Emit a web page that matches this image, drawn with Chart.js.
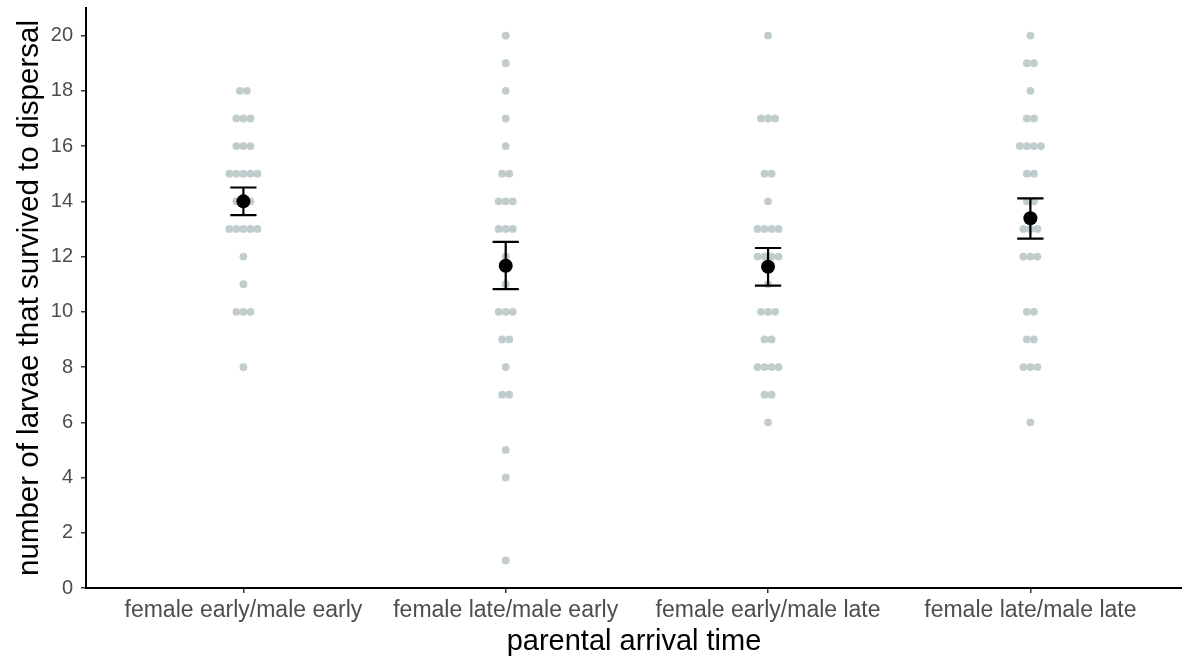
<!DOCTYPE html>
<html>
<head>
<meta charset="utf-8">
<script src="https://cdn.jsdelivr.net/npm/chart.js@4.4.0/dist/chart.umd.min.js"></script>
<style>
  html, body { margin: 0; padding: 0; background: #fff; overflow: hidden; }
  #wrap { width: 1182px; height: 656px; }
</style>
</head>
<body>
<div id="wrap"><canvas id="chart"></canvas></div>
<script>
// groups on the x axis
const categories = [
    'female early/male early',
    'female late/male early',
    'female early/male late',
    'female late/male late'
];

// individual broods: larvae surviving to dispersal
const earlyEarly = [18, 18, 17, 17, 17, 16, 16, 16, 15, 15, 15, 15, 15, 14, 14, 14, 13, 13, 13, 13, 13, 12, 11, 10, 10, 10, 8];
const lateEarly = [20, 19, 18, 17, 16, 15, 15, 14, 14, 14, 13, 13, 13, 12, 11, 10, 10, 10, 9, 9, 8, 7, 7, 5, 4, 1];
const earlyLate = [20, 17, 17, 17, 15, 15, 14, 13, 13, 13, 13, 12, 12, 12, 12, 11, 10, 10, 10, 9, 9, 8, 8, 8, 8, 7, 7, 6];
const lateLate = [20, 19, 19, 18, 17, 17, 16, 16, 16, 16, 15, 15, 14, 14, 13, 13, 13, 12, 12, 12, 10, 10, 9, 9, 8, 8, 8, 6];

const means = [14.0, 11.67, 11.63, 13.39];
const lower = [13.50, 10.82, 10.95, 12.65];
const upper = [14.50, 12.53, 12.31, 14.11];

const yTicks = [0, 2, 4, 6, 8, 10, 12, 14, 16, 18, 20];

const groups = [earlyEarly, lateEarly, earlyLate, lateLate];

// centred dot stacking: tied values are laid side by side
const DOT_STEP = 0.0268;
const rawPoints = [];
groups.forEach((vals, gi) => {
    const counts = {};
    vals.forEach(v => { counts[v] = (counts[v] || 0) + 1; });
    Object.keys(counts).forEach(k => {
        const n = counts[k];
        for (let i = 0; i < n; i++) {
            rawPoints.push({ x: gi + 1 + (i - (n - 1) / 2) * DOT_STEP, y: Number(k) });
        }
    });
});

const meanPoints = means.map((m, i) => ({ x: i + 1, y: m }));

// error bars drawn through the chart scales, under the mean dots
const errorBars = {
    id: 'errorBars',
    afterDatasetDraw(chart, args) {
        if (args.index !== 1) return;
        const { ctx, scales: { x, y } } = chart;
        ctx.save();
        ctx.strokeStyle = '#000';
        ctx.lineWidth = 2.2;
        means.forEach((m, i) => {
            const cx = x.getPixelForValue(i + 1);
            const half = x.getPixelForValue(i + 1.05) - cx;
            const yLo = y.getPixelForValue(lower[i]);
            const yHi = y.getPixelForValue(upper[i]);
            ctx.beginPath();
            ctx.moveTo(cx, yLo); ctx.lineTo(cx, yHi);
            ctx.moveTo(cx - half, yLo); ctx.lineTo(cx + half, yLo);
            ctx.moveTo(cx - half, yHi); ctx.lineTo(cx + half, yHi);
            ctx.stroke();
        });
        ctx.restore();
    }
};

const fam = "'Liberation Sans', Arial, sans-serif";

new Chart(document.getElementById('chart'), {
    type: 'scatter',
    data: {
        datasets: [
            {
                label: 'mean',
                data: meanPoints,
                backgroundColor: '#000',
                borderWidth: 0,
                pointRadius: 7
            },
            {
                label: 'broods',
                data: rawPoints,
                backgroundColor: '#C1CDCD',
                borderWidth: 0,
                pointRadius: 3.9
            }
        ]
    },
    options: {
        responsive: true,
        maintainAspectRatio: false,
        animation: false,
        layout: { autoPadding: false, padding: { top: 8, right: 0, left: 0, bottom: 0 } },
        plugins: {
            legend: { display: false },
            tooltip: { enabled: false }
        },
        scales: {
            x: {
                type: 'linear',
                min: 0.4,
                max: 4.578,
                afterBuildTicks: scale => {
                    scale.ticks = categories.map((c, i) => ({ value: i + 1 }));
                },
                afterFit: scale => {
                    scale.height = 68;
                    scale.paddingLeft = 0;
                    scale.paddingRight = 0;
                },
                ticks: {
                    color: '#4D4D4D',
                    font: { family: fam, size: 23 },
                    padding: 4,
                    maxRotation: 0,
                    autoSkip: false,
                    callback: v => categories[v - 1]
                },
                grid: {
                    drawOnChartArea: false,
                    drawTicks: true,
                    tickLength: 5,
                    color: '#333',
                    lineWidth: 1.5
                },
                border: { display: true, color: '#000', width: 2 },
                title: {
                    display: true,
                    text: 'parental arrival time',
                    color: '#000',
                    font: { family: fam, size: 29, lineHeight: 1 },
                    padding: { top: 0, bottom: 0 }
                }
            },
            y: {
                min: 0,
                max: 21,
                afterBuildTicks: scale => {
                    scale.ticks = yTicks.map(v => ({ value: v }));
                },
                afterFit: scale => {
                    scale.width = 86;
                    scale.paddingTop = 0;
                    scale.paddingBottom = 0;
                },
                ticks: {
                    color: '#4D4D4D',
                    font: { family: fam, size: 20 },
                    padding: 8
                },
                grid: {
                    drawOnChartArea: false,
                    drawTicks: true,
                    tickLength: 5,
                    color: '#333',
                    lineWidth: 1.5
                },
                border: { display: true, color: '#000', width: 2 },
                title: {
                    display: true,
                    text: 'number of larvae that survived to dispersal',
                    color: '#000',
                    font: { family: fam, size: 29.5 },
                    padding: { top: 12, bottom: 0 }
                }
            }
        }
    },
    plugins: [errorBars]
});
</script>
</body>
</html>
